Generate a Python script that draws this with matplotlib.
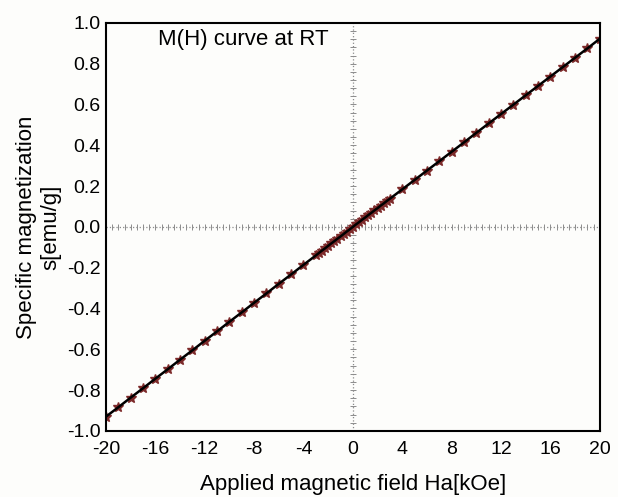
import numpy as np
import matplotlib
matplotlib.use("Agg")
import matplotlib.pyplot as plt

plt.rcParams["font.family"] = ["Liberation Sans", "DejaVu Sans"]

# field in kOe, magnetization in emu/g
field = [-20, -19, -18, -17, -16, -15, -14, -13, -12, -11, -10, -9, -8, -7, -6, -5, -4,
         -3, -2.75, -2.5, -2.25, -2, -1.75, -1.5, -1.25, -1, -0.75, -0.5, -0.25, 0,
         0.25, 0.5, 0.75, 1, 1.25, 1.5, 1.75, 2, 2.25, 2.5, 2.75, 3,
         4, 5, 6, 7, 8, 9, 10, 11, 12, 13, 14, 15, 16, 17, 18, 19, 20]
magnetization = [-0.930, -0.884, -0.837, -0.791, -0.744, -0.698, -0.651, -0.605, -0.558, -0.512,
                 -0.465, -0.419, -0.372, -0.326, -0.279, -0.233, -0.186,
                 -0.140, -0.128, -0.116, -0.105, -0.093, -0.081, -0.070, -0.058, -0.047,
                 -0.035, -0.023, -0.012, 0.000,
                 0.012, 0.023, 0.035, 0.046, 0.058, 0.069, 0.081, 0.092, 0.104, 0.115, 0.127, 0.138,
                 0.184, 0.230, 0.276, 0.322, 0.368, 0.414, 0.461, 0.507, 0.553, 0.599,
                 0.645, 0.691, 0.737, 0.783, 0.829, 0.875, 0.922]

xticks = [-20, -16, -12, -8, -4, 0, 4, 8, 12, 16, 20]
yticks = [-1.0, -0.8, -0.6, -0.4, -0.2, 0.0, 0.2, 0.4, 0.6, 0.8, 1.0]

bg = "#fdfdfb"
fig = plt.figure(figsize=(6.18, 4.97), dpi=100)
fig.patch.set_facecolor(bg)
ax = fig.add_axes([0.1715, 0.133, 0.799, 0.821])
ax.set_facecolor(bg)

# dotted zero cross-hairs with little ticks
grid_col = "#8c8c8c"
ax.axhline(0, color=grid_col, ls=":", lw=0.9, zorder=1)
ax.axvline(0, color=grid_col, ls=":", lw=0.9, zorder=1)
hx = np.arange(-20, 20.01, 0.5)
ax.plot(hx, np.zeros_like(hx), ls="none", marker="|", ms=4, mew=0.7, color=grid_col, zorder=1)
vy = np.arange(-1.0, 1.001, 0.04)
ax.plot(np.zeros_like(vy), vy, ls="none", marker="_", ms=4, mew=0.7, color=grid_col, zorder=1)

ax.plot(field, magnetization, ls="none", marker="*", ms=7, color="#7d2a2a", zorder=2)
ax.plot(field, magnetization, color="black", lw=1.8, zorder=3)

ax.set_xlim(-20, 20)
ax.set_ylim(-1.0, 1.0)
ax.set_xticks(xticks)
ax.set_xticklabels([str(t) for t in xticks])
ax.set_yticks(yticks)
ax.set_yticklabels([f"{t:.1f}" for t in yticks])
ax.tick_params(length=0, labelsize=14)
ax.tick_params(axis="x", pad=7)
ax.tick_params(axis="y", pad=4)
for s in ax.spines.values():
    s.set_linewidth(1.5)

ax.text(0.105, 0.985, "M(H) curve at RT", transform=ax.transAxes, fontsize=16, va="top")
ax.set_xlabel("Applied magnetic field Ha[kOe]", fontsize=16, labelpad=12)
ax.set_ylabel("Specific magnetization\ns[emu/g]", fontsize=16, labelpad=4)

fig.savefig("out.png", dpi=100, facecolor=fig.get_facecolor())
